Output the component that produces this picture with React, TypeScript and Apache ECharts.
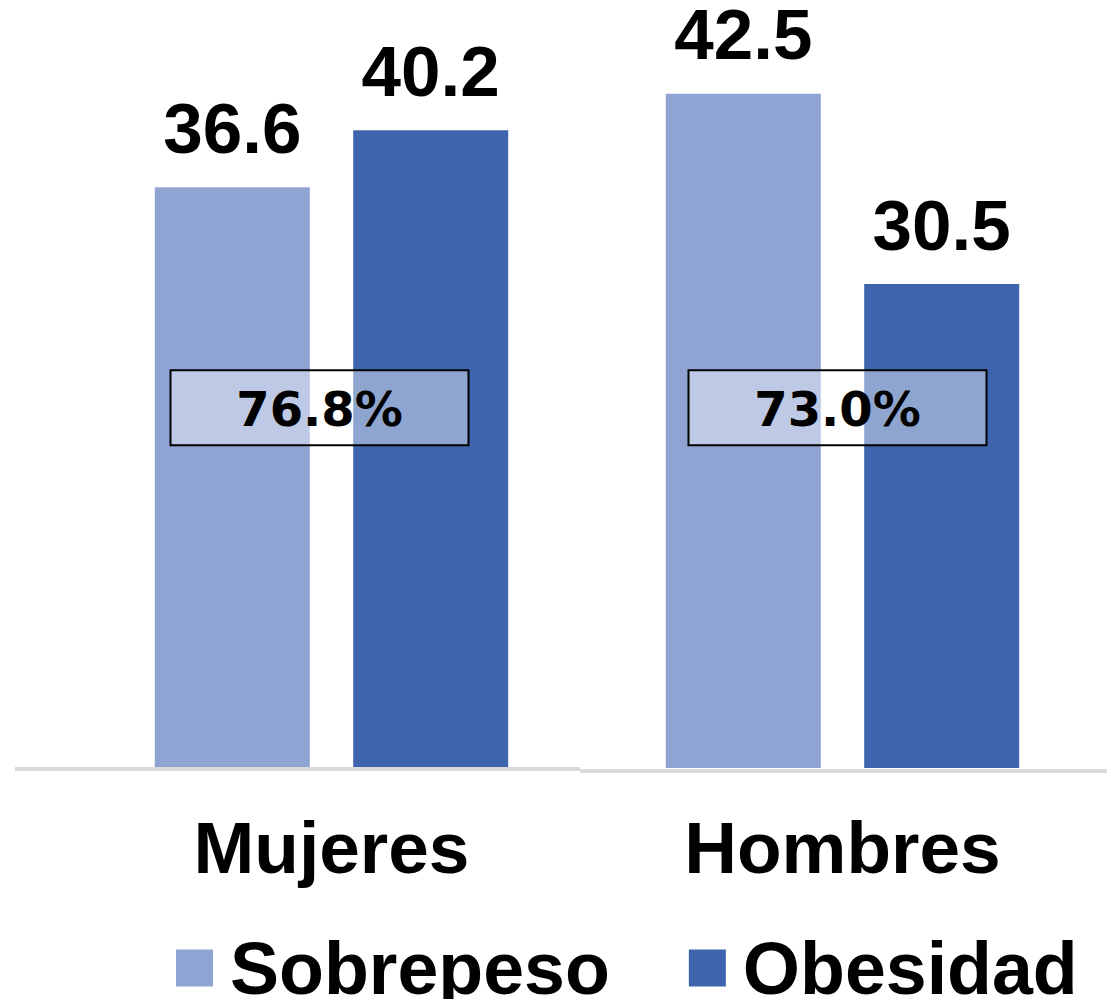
import React, { useEffect, useRef } from "react";
import * as echarts from "echarts";

const categories = ["Mujeres", "Hombres"];
const sobrepeso = [36.6, 42.5];
const obesidad = [40.2, 30.5];
const totals = ["76.8%", "73.0%"];
const totalBoxLevel = 22.7;

const LIGHT = "#8FA4D3";
const DARK = "#3D64AD";

export default function App() {
  const ref = useRef<HTMLDivElement>(null);
  useEffect(() => {
    if (!ref.current) return;
    const chart = echarts.init(ref.current, null, { renderer: "svg" });
    const labelStyle = {
      show: true,
      position: "top",
      distance: 29,
      fontFamily: "Liberation Sans, Arial, sans-serif",
      fontWeight: "bold",
      fontSize: 71,
      lineHeight: 60,
      color: "#000",
    };
    chart.setOption({
      animation: false,
      grid: { left: 76, right: 9, top: 54, bottom: 231 },
      legend: {
        data: ["Sobrepeso", "Obesidad"],
        left: 176,
        top: 931,
        padding: 0,
        itemWidth: 37,
        itemHeight: 37,
        itemGap: 79,
        icon: "rect",
        textStyle: {
          fontFamily: "Liberation Sans, Arial, sans-serif",
          fontWeight: "bold",
          fontSize: 73.5,
          lineHeight: 60,
          color: "#000",
          padding: [0, 0, 8, 12],
        },
      },
      xAxis: {
        type: "category",
        data: categories,
        axisLine: { show: false },
        axisTick: { show: false },
        axisLabel: {
          margin: 43,
          fontFamily: "Liberation Sans, Arial, sans-serif",
          fontWeight: "bold",
          fontSize: 73,
          color: "#000",
        },
      },
      yAxis: {
        type: "value",
        min: 0,
        max: 45,
        show: false,
        splitLine: { show: false },
      },
      series: [
        {
          name: "Sobrepeso",
          type: "bar",
          data: sobrepeso,
          barWidth: 155,
          barGap: "28%",
          itemStyle: { color: LIGHT },
          label: labelStyle,
        },
        {
          name: "Obesidad",
          type: "bar",
          data: obesidad,
          barWidth: 155,
          itemStyle: { color: DARK },
          label: labelStyle,
        },
      ],
    });

    const y = chart.convertToPixel({ yAxisIndex: 0 }, totalBoxLevel) as number;
    const shifts = [-12, -5];
    const boxes: any[] = [];
    categories.forEach((c, i) => {
      const cx = (chart.convertToPixel({ xAxisIndex: 0 }, c) as number) + shifts[i];
      boxes.push({
        type: "rect",
        shape: { x: cx - 149, y: y - 37.5, width: 298, height: 75 },
        style: { fill: "rgba(255,255,255,0.42)", stroke: "#000", lineWidth: 2 },
        z: 100,
      });
      boxes.push({
        type: "text",
        x: cx,
        y: y + 1,
        style: {
          text: totals[i],
          align: "center",
          verticalAlign: "middle",
          fontFamily: "DejaVu Sans, sans-serif",
          fontWeight: "bold",
          fontSize: 48,
          fill: "#000",
        },
        z: 101,
      });
    });
    boxes.push({
      type: "rect",
      shape: { x: 15, y: 767, width: 565, height: 4 },
      style: { fill: "#D9D9D9" },
      z: 50,
    });
    boxes.push({
      type: "rect",
      shape: { x: 580, y: 769, width: 527, height: 4 },
      style: { fill: "#D9D9D9" },
      z: 50,
    });
    chart.setOption({ graphic: boxes });

    return () => chart.dispose();
  }, []);
  return (
    <div
      ref={ref}
      style={{ position: "absolute", left: 0, top: 0, width: 1107, height: 999, background: "#fff" }}
    />
  );
}
